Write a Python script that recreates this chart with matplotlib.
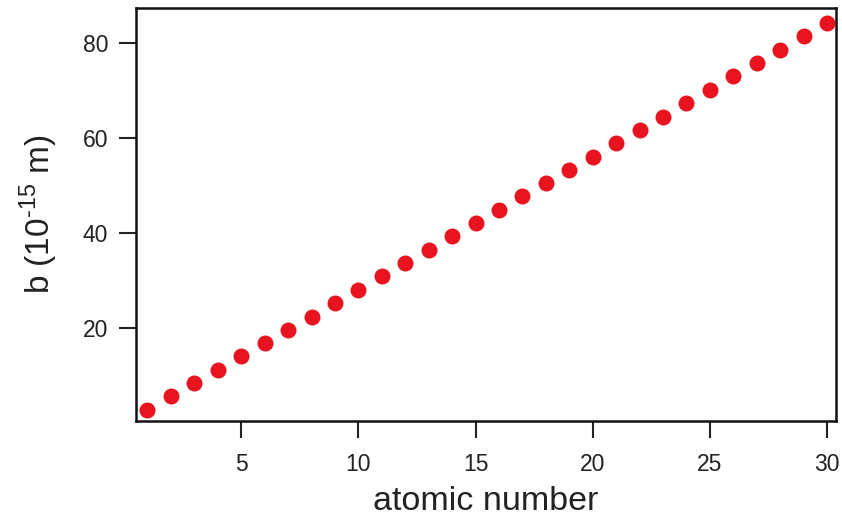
import numpy as np
import matplotlib
matplotlib.use('Agg')
import matplotlib.pyplot as plt

plt.rcParams['font.family'] = ['Liberation Sans', 'DejaVu Sans']
plt.rcParams['mathtext.fontset'] = 'custom'
plt.rcParams['mathtext.rm'] = 'Liberation Sans'

# atomic number and b values
atomic_number = list(range(1, 31))
b_values = [2.8, 5.6, 8.4, 11.2, 14.0, 16.8, 19.6, 22.4, 25.3, 28.1,
            30.9, 33.7, 36.5, 39.3, 42.1, 44.9, 47.7, 50.5, 53.3, 56.1,
            58.9, 61.7, 64.5, 67.3, 70.2, 73.0, 75.8, 78.6, 81.4, 84.2]
x_ticks = [5, 10, 15, 20, 25, 30]
y_ticks = [20, 40, 60, 80]

fig = plt.figure(figsize=(8.42, 5.2), dpi=100, facecolor='w')
ax = fig.add_axes([0.1615, 0.1904, 0.8314, 0.7942])
ax.plot(atomic_number, b_values, 'o', color='#e8131f', markersize=11.5, markeredgewidth=0)

ax.set_xlim(0.51, 30.38)
ax.set_ylim(0.4, 87.4)
ax.set_xticks(x_ticks)
ax.set_yticks(y_ticks)
ax.tick_params(direction='out', length=12, width=1.5, labelsize=16.5, color='#222222',
               labelcolor='#222222')
ax.tick_params(axis='x', pad=11)
ax.tick_params(axis='y', pad=8)
for spine in ax.spines.values():
    spine.set_linewidth(1.8)
    spine.set_color('#111111')

ax.set_xlabel('atomic number', fontsize=24.5, labelpad=7, color='#222222')
ax.set_ylabel(r'b (10$^{\text{-15}}$ m)', fontsize=24, labelpad=16, color='#222222')

plt.savefig('out.png', dpi=100)
